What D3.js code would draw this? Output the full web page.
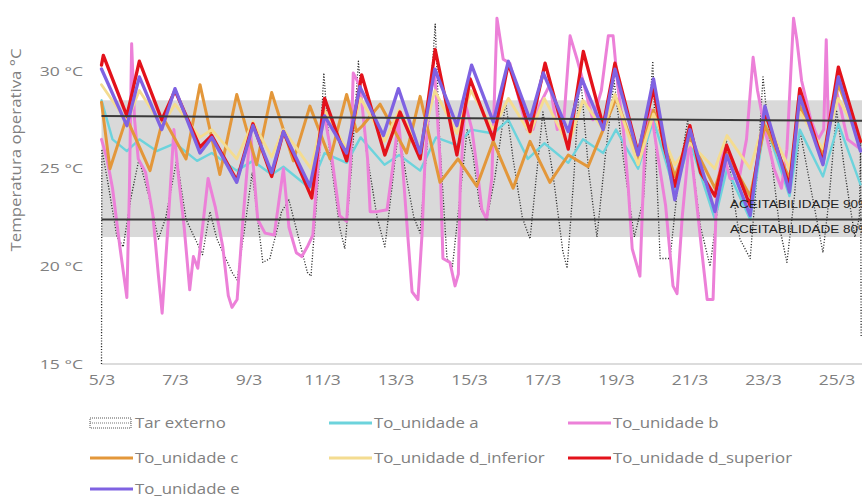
<!DOCTYPE html>
<html><head><meta charset="utf-8">
<script src="https://cdn.jsdelivr.net/npm/d3@7"></script>
<style>body{margin:0;background:#fff;}svg{display:block;}</style>
</head><body>
<svg id="c" width="862" height="499"></svg>
<script>
// ---- data (day offset from 5/3, temperature °C) ----
const xTickDays = [0,2,4,6,8,10,12,14,16,18,20];
const xTickLabels = ["5/3","7/3","9/3","11/3","13/3","15/3","17/3","19/3","21/3","23/3","25/3"];
const yTickValues = [15,20,25,30];
const yTickLabels = ["15 °C","20 °C","25 °C","30 °C"];
const band80 = [21.5, 28.5];
const upper90 = [[0,27.7],[20.72,27.45]];
const lower90 = [[0,22.4],[20.72,22.4]];

const tarExterno = [[0,15],[0.01,26.0],[0.2,24.0],[0.42,21.5],[0.59,21.0],[0.8,23.5],[1.02,25.5],[1.3,23.5],[1.55,21.4],[1.75,22.5],[2.05,25.5],[2.3,22.4],[2.6,21.2],[2.75,20.6],[2.95,22.8],[3.14,21.4],[3.31,20.7],[3.55,19.7],[3.69,19.3],[3.9,22.0],[4.1,24.8],[4.39,20.2],[4.58,20.4],[4.9,22.8],[5.1,23.4],[5.33,21.7],[5.6,19.7],[5.7,19.5],[5.9,24.5],[6.05,29.9],[6.2,26.0],[6.48,22.0],[6.62,20.9],[6.8,25.0],[6.99,30.5],[7.2,26.0],[7.5,22.5],[7.71,21.0],[7.9,24.0],[8.08,27.0],[8.3,24.5],[8.5,22.5],[8.67,21.7],[8.85,26.0],[9.08,32.4],[9.2,26.5],[9.4,20.4],[9.55,20.0],[9.75,23.5],[9.95,27.0],[10.1,25.8],[10.3,23.0],[10.48,22.4],[10.7,24.5],[11.0,28.4],[11.2,25.5],[11.45,22.5],[11.66,21.4],[12.01,27.9],[12.3,24.5],[12.55,20.8],[12.67,19.9],[12.85,24.5],[13.02,30.0],[13.25,25.0],[13.48,21.5],[13.7,25.5],[13.95,29.5],[14.2,25.5],[14.5,21.5],[14.75,23.5],[15.0,30.5],[15.1,25.0],[15.2,20.4],[15.47,20.4],[15.7,24.5],[15.95,27.5],[16.1,25.0],[16.29,22.1],[16.56,20.0],[16.8,23.5],[17.0,26.5],[17.2,23.5],[17.37,21.4],[17.65,20.4],[17.85,25.0],[18.0,29.7],[18.2,26.0],[18.45,22.0],[18.65,20.2],[18.85,23.5],[19.0,27.0],[19.3,24.0],[19.63,20.7],[19.8,23.5],[20.0,28.0],[20.25,24.5],[20.5,21.5],[20.62,22.5],[20.655,26.4],[20.67,16.4]];

const unidadeA = [[0,28.5],[0.3,26.5],[0.69,25.9],[1.03,26.5],[1.5,25.9],[2.0,26.3],[2.6,25.4],[3.0,25.8],[3.68,24.9],[4.12,25.4],[4.63,24.7],[4.95,25.1],[5.67,24.0],[6.07,25.8],[6.67,25.3],[7.05,26.6],[7.7,25.2],[8.1,25.7],[8.67,24.9],[9.1,26.6],[9.67,26.2],[10.05,27.0],[10.66,26.8],[11.07,27.5],[11.6,25.5],[12.05,26.3],[12.7,25.3],[13.1,26.5],[13.65,25.8],[14.0,27.0],[14.6,25.0],[15.02,27.5],[15.6,23.8],[16.01,26.4],[16.69,22.4],[17.02,25.0],[17.65,22.4],[18.05,27.4],[18.72,23.6],[19.0,27.0],[19.63,24.6],[20.05,27.3],[20.65,24.2]];

const unidadeB = [[0,26.5],[0.15,25.5],[0.3,24.0],[0.5,21.0],[0.69,18.4],[0.76,24.0],[0.82,31.4],[0.9,27.5],[1.0,25.5],[1.2,24.8],[1.4,22.6],[1.55,19.5],[1.65,17.6],[1.81,22.1],[1.97,27.0],[2.1,24.5],[2.25,22.0],[2.4,18.8],[2.5,20.5],[2.62,19.9],[2.75,22.0],[2.9,24.5],[3.1,23.0],[3.3,21.0],[3.45,18.5],[3.55,17.9],[3.69,18.3],[3.85,22.4],[4.05,27.0],[4.25,22.4],[4.45,21.7],[4.7,21.6],[4.95,25.0],[5.1,22.0],[5.3,20.7],[5.45,20.5],[5.6,21.0],[5.75,21.6],[5.9,25.5],[6.05,27.9],[6.25,25.8],[6.48,22.6],[6.67,22.3],[6.78,25.5],[6.85,29.9],[7.04,29.2],[7.24,25.5],[7.31,22.8],[7.5,22.8],[7.77,22.9],[7.94,25.3],[8.08,27.5],[8.18,25.5],[8.3,22.4],[8.45,18.7],[8.61,18.3],[8.72,21.6],[8.8,25.3],[8.94,28.9],[9.07,29.8],[9.21,25.5],[9.29,20.4],[9.48,20.2],[9.62,19.0],[9.71,19.6],[9.76,24.1],[9.89,28.4],[10.08,27.0],[10.22,25.0],[10.35,22.9],[10.48,22.4],[10.62,24.5],[10.76,32.7],[10.93,30.6],[11.11,30.4],[11.3,29.0],[11.58,27.0],[11.74,27.0],[11.93,28.3],[12.2,29.3],[12.4,27.0],[12.58,27.5],[12.75,31.8],[12.94,30.6],[13.1,29.5],[13.37,27.5],[13.6,29.0],[13.79,31.8],[13.92,31.8],[14.05,29.2],[14.2,27.0],[14.33,24.1],[14.44,20.9],[14.65,19.5],[14.8,27.0],[14.95,28.0],[15.15,25.5],[15.35,23.1],[15.55,19.0],[15.66,18.6],[15.8,22.5],[16.0,26.5],[16.15,24.0],[16.35,20.5],[16.48,18.3],[16.64,18.3],[16.74,23.8],[16.9,26.0],[17.1,24.5],[17.35,24.5],[17.55,26.5],[17.73,30.7],[17.85,29.0],[18.05,27.0],[18.3,25.0],[18.5,24.0],[18.65,26.0],[18.83,32.7],[18.92,31.6],[19.05,29.5],[19.3,27.5],[19.5,26.5],[19.65,27.0],[19.72,31.6],[19.78,27.0],[20.0,29.0],[20.3,26.5],[20.65,26.0]];

const unidadeC = [[0,28.4],[0.23,25.0],[0.68,27.6],[1.32,24.9],[1.68,27.6],[2.3,25.5],[2.68,29.3],[3.22,24.7],[3.68,28.8],[4.22,25.2],[4.63,28.9],[5.22,25.4],[5.67,28.2],[6.22,25.5],[6.67,28.8],[6.94,26.9],[7.1,27.2],[7.58,28.3],[8.3,25.8],[8.67,28.7],[9.21,24.3],[9.7,25.5],[10.21,24.1],[10.66,26.4],[11.2,24.0],[11.66,26.4],[12.2,24.3],[12.7,25.7],[13.24,25.1],[13.65,27.0],[14.0,28.6],[14.6,25.5],[15.02,28.0],[15.6,24.6],[16.0,26.6],[16.69,24.0],[17.0,25.8],[17.65,23.6],[18.05,27.2],[18.72,24.5],[19.0,28.2],[19.63,25.7],[20.05,29.3],[20.65,26.4]];

const unidadeDInf = [[0,29.3],[0.69,27.4],[1.03,29.0],[1.64,27.2],[2.0,28.3],[2.68,26.6],[3.0,27.0],[3.68,25.5],[4.12,27.4],[4.63,25.6],[4.95,27.0],[5.7,25.0],[6.07,28.0],[6.67,26.0],[7.05,28.6],[7.7,26.4],[8.1,28.0],[8.67,26.0],[9.07,29.0],[9.67,26.8],[10.05,29.0],[10.66,27.0],[11.07,28.6],[11.66,26.8],[12.05,28.6],[12.7,26.2],[13.1,28.5],[13.65,27.0],[13.97,28.8],[14.6,25.2],[15.02,27.8],[15.6,25.2],[16.01,26.3],[16.69,25.0],[17.02,26.7],[17.65,25.0],[18.05,27.6],[18.72,25.0],[19.0,27.9],[19.63,26.0],[20.05,28.6],[20.65,26.5]];

const unidadeDSup = [[0,30.3],[0.05,30.8],[0.69,27.7],[1.03,30.5],[1.64,27.5],[2.0,29.0],[2.68,26.1],[3.0,26.7],[3.68,24.4],[4.12,27.3],[4.63,24.6],[4.95,26.9],[5.72,23.5],[6.07,28.6],[6.67,25.4],[7.08,29.8],[7.71,25.7],[8.12,27.9],[8.67,25.5],[9.08,31.1],[9.67,25.7],[10.03,29.6],[10.66,26.5],[11.07,30.4],[11.66,26.9],[12.07,30.4],[12.7,26.0],[13.11,31.0],[13.65,27.2],[13.97,30.4],[14.6,25.8],[15.02,29.1],[15.3,26.2],[15.6,24.1],[16.01,27.2],[16.3,24.8],[16.69,23.6],[17.01,26.2],[17.65,23.1],[18.05,27.9],[18.72,24.1],[19.0,29.1],[19.63,25.3],[20.05,30.2],[20.65,26.4]];

const unidadeE = [[0,30.1],[0.69,27.2],[1.03,29.7],[1.64,27.0],[2.0,29.1],[2.68,25.8],[3.0,26.6],[3.68,24.3],[4.12,27.2],[4.63,24.8],[4.95,26.9],[5.67,24.1],[6.07,27.7],[6.67,25.8],[7.03,29.2],[7.67,26.7],[8.08,29.1],[8.67,25.8],[9.07,30.1],[9.67,27.2],[10.07,30.3],[10.66,27.4],[11.07,30.5],[11.66,27.5],[12.02,29.9],[12.7,26.9],[13.07,29.6],[13.65,27.0],[13.97,30.1],[14.6,25.7],[15.02,29.6],[15.6,23.4],[16.01,27.0],[16.69,22.8],[17.01,25.7],[17.65,22.6],[18.05,28.2],[18.72,23.8],[19.0,28.7],[19.63,25.2],[20.05,29.7],[20.65,25.9]];

const seriesNames = ["Tar externo","To_unidade a","To_unidade b","To_unidade c","To_unidade d_inferior","To_unidade d_superior","To_unidade e"];
const seriesData = [tarExterno, unidadeA, unidadeB, unidadeC, unidadeDInf, unidadeDSup, unidadeE];

// ---- styles ----
const styles = [
  {color:"#2a2a2a", width:1.3, dash:"1.1,1.7"},
  {color:"#6cd3dc", width:2.4},
  {color:"#ec80d8", width:3},
  {color:"#e3973a", width:3},
  {color:"#f4dc90", width:2.8},
  {color:"#e3121b", width:3.3},
  {color:"#7f62e2", width:3.3}
];

const svg = d3.select("#c");
const font = "'Open Sans', 'Noto Sans', sans-serif";
const textGray = "#808080";
const x = d3.scaleLinear().domain([0, 20.72]).range([101.5, 863]);
const y = d3.scaleLinear().domain([15, 30]).range([364, 71]);

// stretch helper: widen text horizontally like the reference
function stretch(sel, k) {
  sel.each(function(){
    const w = this.getComputedTextLength();
    d3.select(this).attr("textLength", w*k).attr("lengthAdjust","spacingAndGlyphs");
  });
}

// band 80%
svg.append("rect")
  .attr("x", x(0)).attr("width", x(20.72)-x(0))
  .attr("y", y(band80[1])).attr("height", y(band80[0])-y(band80[1]))
  .attr("fill", "#d9d9d9");

// x axis baseline
svg.append("line").attr("x1", x(0)).attr("x2", 862).attr("y1", y(15)).attr("y2", y(15))
  .attr("stroke", "#d0d0d0").attr("stroke-width", 1.5);

const line = d3.line().x(d=>x(d[0])).y(d=>y(d[1]));
const g = svg.append("g");
seriesData.forEach((s,i)=>{
  const st = styles[i];
  g.append("path").attr("d", line(s)).attr("fill","none")
    .attr("stroke", st.color).attr("stroke-width", st.width)
    .attr("stroke-linejoin","round").attr("stroke-linecap", st.dash ? "butt" : "round")
    .attr("stroke-dasharray", st.dash || null);
});

// 90% lines
[upper90, lower90].forEach(l=>{
  svg.append("path").attr("d", line(l)).attr("fill","none")
    .attr("stroke","#3a3a3a").attr("stroke-width",2);
});

// acceptability labels
svg.append("text").attr("x", 730).attr("y", y(23.0)).text("ACEITABILIDADE 90%")
  .attr("font-family","'Liberation Sans', Arial, sans-serif").attr("font-size",10).attr("fill","#222")
  .attr("textLength",140).attr("lengthAdjust","spacingAndGlyphs");
svg.append("text").attr("x", 730).attr("y", y(22.05)).text("ACEITABILIDADE 80%")
  .attr("font-family","'Liberation Sans', Arial, sans-serif").attr("font-size",10).attr("fill","#222")
  .attr("textLength",140).attr("lengthAdjust","spacingAndGlyphs")
  .attr("dominant-baseline","hanging");

// x ticks
const xa = svg.append("g").attr("transform", `translate(0,${y(15)})`)
  .call(d3.axisBottom(x).tickValues(xTickDays).tickFormat((d,i)=>xTickLabels[i]).tickSize(0).tickPadding(11));
xa.select(".domain").remove();
xa.selectAll("text").attr("font-family", font).attr("font-size", 14).attr("fill",textGray)
  .call(stretch, 1.25);

// y ticks
const ya = svg.append("g").attr("transform", `translate(83,0)`)
  .call(d3.axisLeft(y).tickValues(yTickValues).tickFormat((d,i)=>yTickLabels[i]).tickSize(0).tickPadding(0));
ya.select(".domain").remove();
ya.selectAll("text").attr("font-family", font).attr("font-size", 13).attr("fill",textGray)
  .call(stretch, 1.35);

// y title
svg.append("text").attr("transform","translate(21,150) rotate(-90)")
  .attr("text-anchor","middle").attr("font-family",font).attr("font-size",15).attr("fill",textGray)
  .text("Temperatura operativa °C")
  .call(stretch, 1.12);

// legend
const legendPos = [[90,423],[329,423],[568,423],[90,458],[329,458],[568,458],[90,489]];
seriesNames.forEach((name,i)=>{
  const [lx,ly] = legendPos[i];
  const st = styles[i];
  const lg = svg.append("g");
  if (i===0) {
    lg.append("rect").attr("x",lx).attr("y",ly-5).attr("width",41).attr("height",10)
      .attr("fill","none").attr("stroke","#555").attr("stroke-width",1).attr("stroke-dasharray","1,1");
    lg.append("line").attr("x1",lx).attr("x2",lx+41).attr("y1",ly).attr("y2",ly)
      .attr("stroke","#777").attr("stroke-width",1).attr("stroke-dasharray","1,1");
  } else {
    lg.append("line").attr("x1",lx).attr("x2",lx+43).attr("y1",ly).attr("y2",ly)
      .attr("stroke",st.color).attr("stroke-width",3);
  }
  lg.append("text").attr("x", lx+45).attr("y", ly).attr("dy","0.35em")
    .attr("font-family",font).attr("font-size",14).attr("fill",textGray).text(name)
    .call(stretch, 1.2);
});
</script>
</body></html>
